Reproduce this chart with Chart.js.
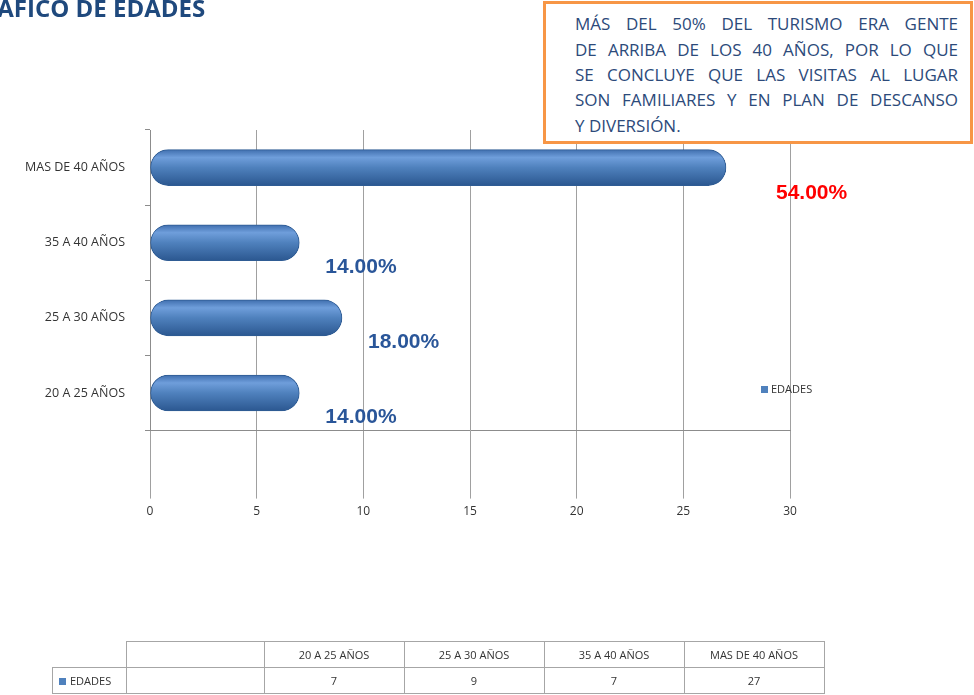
<!DOCTYPE html>
<html>
<head>
<meta charset="utf-8">
<script src="https://cdn.jsdelivr.net/npm/chart.js@4.4.1/dist/chart.umd.min.js"></script>
<style>
  html, body { margin: 0; padding: 0; background: #fff; }
  #wrap { position: relative; width: 974px; height: 695px; overflow: hidden; font-family: "Open Sans", sans-serif; }
  #grafica { position: absolute; left: 0; top: 0; }
  #titulo { position: absolute; left: -36px; top: -9px; font: bold 24px "Open Sans", sans-serif; color: #1f497d; white-space: nowrap; }
  #nota { position: absolute; left: 543px; top: 1px; width: 424px; height: 137px; border: 3px solid #f79646; background: #fff; }
  #nota div { position: absolute; left: 29px; width: 383px; font: 17px "Open Sans", sans-serif; color: #2c4a7a; text-align: justify; text-align-last: justify; white-space: nowrap; }
  #nota div.fin { text-align-last: left; }
  #leyenda { position: absolute; left: 761px; top: 381px; font: 11px "Open Sans", sans-serif; color: #333; }
  #leyenda span { display: inline-block; width: 7px; height: 7px; background: #4f81bd; margin-right: 3px; }
  #tabla { position: absolute; left: 52px; top: 641px; border-collapse: collapse; font: 11px "Open Sans", sans-serif; color: #333; }
  #tabla td { border: 1px solid #a6a6a6; height: 25px; padding: 0; text-align: center; }
  #tabla td.vacio { border: none; }
  .sq { display: inline-block; width: 7px; height: 7px; background: #4f81bd; margin-right: 4px; }
</style>
</head>
<body>
<div id="wrap">
  <canvas id="grafica" width="974" height="695"></canvas>
  <div id="titulo">GRÁFICO DE EDADES</div>
  <div id="nota">
    <div style="top:8px">MÁS DEL 50% DEL TURISMO ERA GENTE</div>
    <div style="top:34px">DE ARRIBA DE LOS 40 AÑOS, POR LO QUE</div>
    <div style="top:59px">SE CONCLUYE QUE LAS VISITAS AL LUGAR</div>
    <div style="top:84px">SON FAMILIARES Y EN PLAN DE DESCANSO</div>
    <div class="fin" style="top:110px">Y DIVERSIÓN.</div>
  </div>
  <div id="leyenda"><span></span>EDADES</div>
  <table id="tabla"></table>
</div>
<script>
const categorias = ['20 A 25 AÑOS', '25 A 30 AÑOS', '35 A 40 AÑOS', 'MAS DE 40 AÑOS'];
const edades = [7, 9, 7, 27];
const serie = 'EDADES';
const ticksX = [0, 5, 10, 15, 20, 25, 30];

const total = edades.reduce((a, b) => a + b, 0);
const GROSOR = 36;

// tabla de datos de abajo
function armarTabla() {
    const t = document.getElementById('tabla');
    let h = '<tr><td class="vacio" style="width:73px"></td><td style="width:137px"></td>';
    categorias.forEach(c => { h += '<td style="width:139px">' + c + '</td>'; });
    h += '</tr><tr><td style="text-align:left;padding-left:6px"><span class="sq"></span>' + serie + '</td><td></td>';
    edades.forEach(v => { h += '<td>' + v + '</td>'; });
    h += '</tr>';
    t.innerHTML = h;
}

// degradado tipo cilindro para cada barra
function colorBarra(ctx) {
    const chart = ctx.chart;
    const y = chart.scales.y;
    if (!y || ctx.dataIndex === undefined) return '#4f81bd';
    const cy = y.getPixelForValue(ctx.dataIndex);
    if (!isFinite(cy)) return '#4f81bd';
    const g = chart.ctx.createLinearGradient(0, cy - GROSOR / 2, 0, cy + GROSOR / 2);
    g.addColorStop(0, '#3f6eae');
    g.addColorStop(0.22, '#6f9edb');
    g.addColorStop(0.5, '#4f81bd');
    g.addColorStop(1, '#2b5790');
    return g;
}

// porcentajes junto a las barras
const etiquetas = {
    id: 'etiquetas',
    afterDatasetsDraw(chart) {
        const c = chart.ctx;
        const meta = chart.getDatasetMeta(0);
        const maximo = Math.max(...edades);
        c.save();
        c.font = 'bold 21px "Liberation Sans", Arial, sans-serif';
        c.textBaseline = 'middle';
        c.textAlign = 'left';
        meta.data.forEach((bar, i) => {
            const grande = edades[i] === maximo;
            c.fillStyle = grande ? '#ff0000' : '#2a5699';
            const pct = (edades[i] / total * 100).toFixed(2) + '%';
            c.fillText(pct, bar.x + (grande ? 50 : 26), bar.y + (grande ? 26 : 24));
        });
        c.restore();
    }
};

window.onload = function () {
    armarTabla();
    const graph = document.querySelector('#grafica');

    const data = {
        labels: categorias,
        datasets: [{
            label: serie,
            data: edades,
            backgroundColor: colorBarra,
            borderColor: '#2f5c94',
            borderWidth: 1,
            borderSkipped: false,
            borderRadius: 18,
            barThickness: GROSOR
        }]
    };

    const config = {
        type: 'bar',
        data: data,
        options: {
            indexAxis: 'y',
            responsive: false,
            animation: false,
            layout: { padding: { top: 130, right: 184, bottom: 170, left: 0 } },
            plugins: { legend: { display: false }, tooltip: { enabled: false } },
            scales: {
                x: {
                    min: 0,
                    max: 30,
                    afterBuildTicks: (axis) => { axis.ticks = ticksX.map(v => ({ value: v })); },
                    grid: { color: '#a0a0a0', lineWidth: 1, tickLength: 68, tickColor: '#a0a0a0' },
                    border: { color: '#8c8c8c' },
                    ticks: { color: '#333', font: { family: 'Open Sans', size: 12 }, padding: 6 }
                },
                y: {
                    reverse: true,
                    afterFit: (axis) => { axis.width = 150; },
                    grid: { drawOnChartArea: false, tickLength: 5, color: '#8c8c8c' },
                    border: { color: '#8c8c8c' },
                    ticks: { color: '#333', font: { family: 'Open Sans', size: 12.5 }, padding: 20 }
                }
            }
        },
        plugins: [etiquetas]
    };

    financeChart = new Chart(graph, config);
};
</script>
</body>
</html>
